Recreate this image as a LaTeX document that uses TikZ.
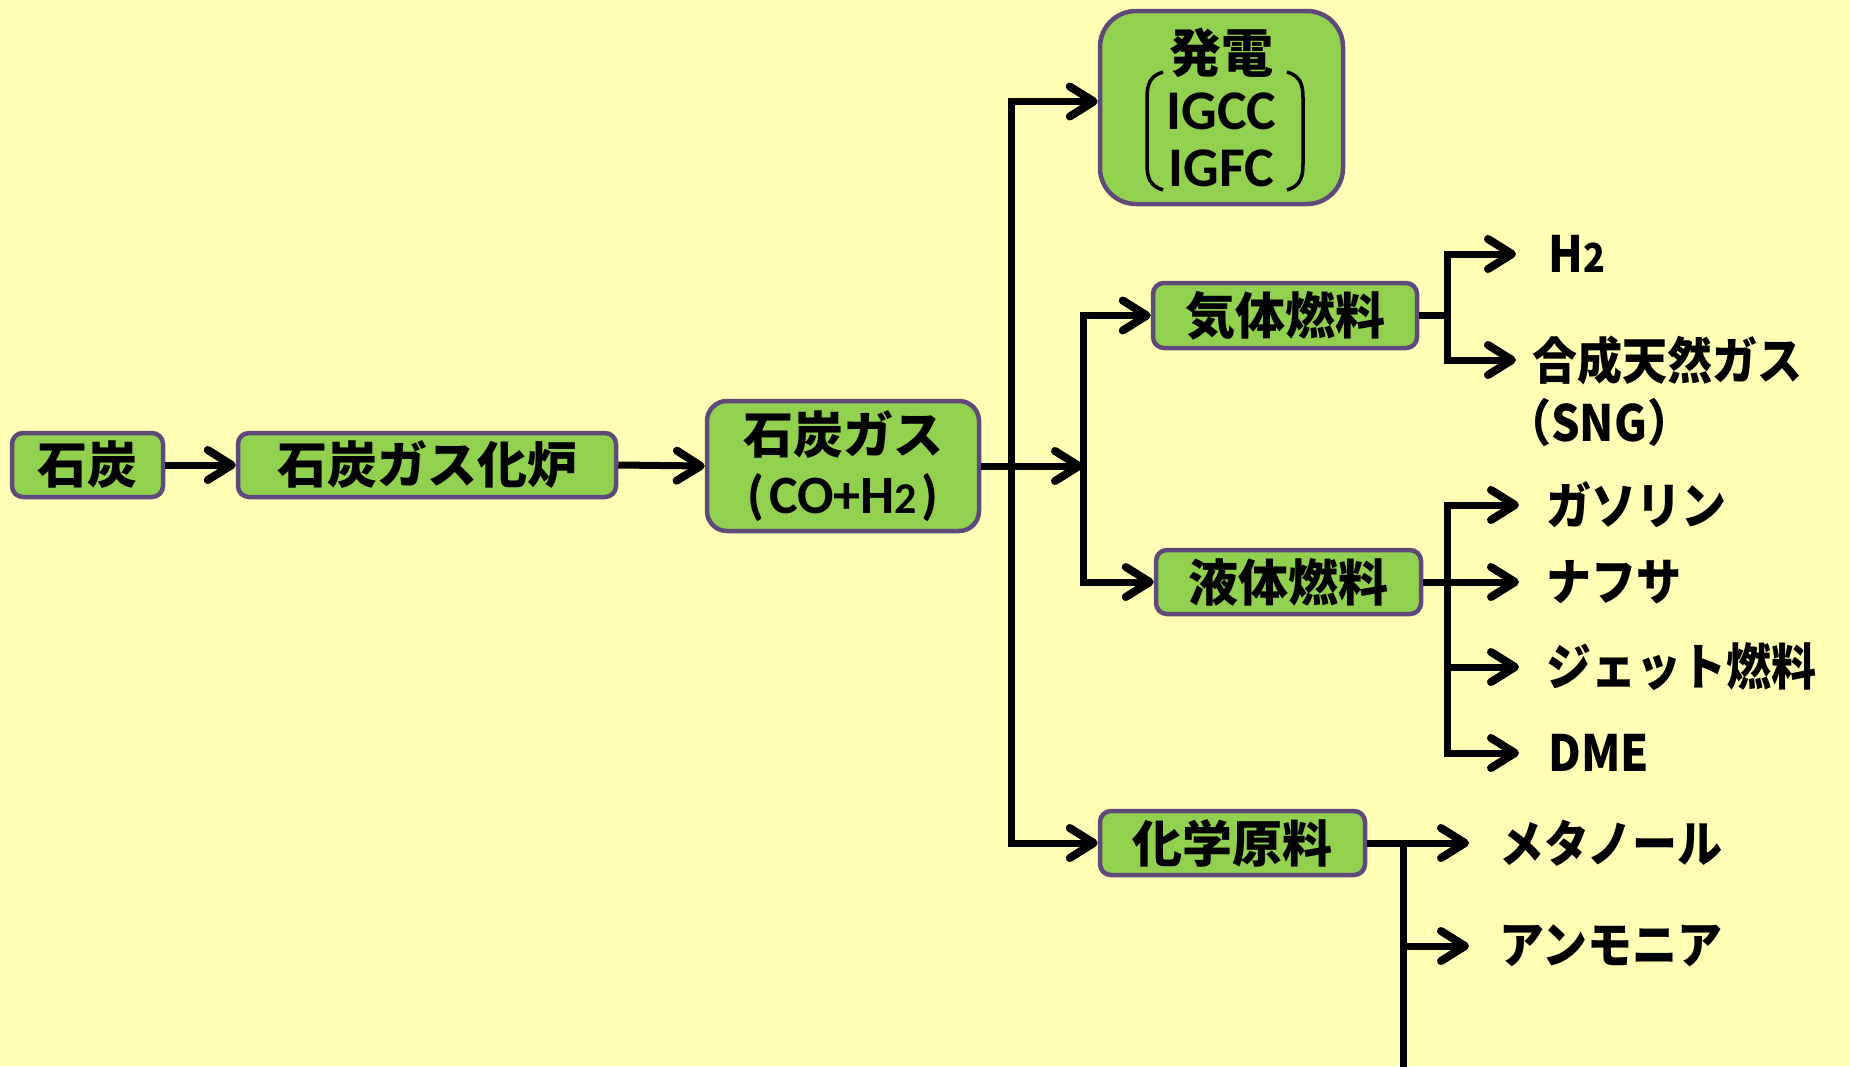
\documentclass[tikz,border=0pt]{standalone}
\usepackage{fontspec}
\setmainfont{Noto Sans CJK JP}
\newfontfamily\jpc{Noto Sans CJK JP}[FakeStretch=0.9]
\newfontfamily\lat{Carlito}
\usetikzlibrary{arrows.meta}
\definecolor{bg}{HTML}{FFFFB5}
\definecolor{boxfill}{HTML}{92D050}
\definecolor{boxdraw}{HTML}{5F497A}
\tikzset{
  box/.style={draw=boxdraw, fill=boxfill, line width=4.5pt, rounded corners=11pt,
    inner sep=0pt, font=\bfseries\fontsize{50}{60}\selectfont},
  outtext/.style={anchor=west, inner sep=0pt, font=\jpc\bfseries\fontsize{50}{60}\selectfont},
  arr/.style={line width=7pt, -{Straight Barb[length=24pt,width=30pt,line width=8pt,round]}},
  conn/.style={line width=7pt},
  bracket/.style={line width=3.5pt},
}
\begin{document}
\begin{tikzpicture}[x=1pt,y=-1pt]
\useasboundingbox (0,0) rectangle (1850,1066);
\fill[bg] (0,0) rectangle (1850,1066);

% boxes
\node[box, minimum width=151pt, minimum height=64pt] (coal) at (87.5,465) {石炭};
\node[box, minimum width=378pt, minimum height=64pt] (gasifier) at (427,465) {石炭ガス化炉};
\node[box, rounded corners=20pt, minimum width=272pt, minimum height=130pt, align=center,
  font=\bfseries\fontsize{50}{60}\selectfont] (gas) at (843,466)
  {石炭ガス\\{\lat\fontsize{54}{60}\selectfont (\hspace{5pt}CO+H{\fontsize{44}{60}\selectfont 2}\hspace{5pt})}};
\node[box, rounded corners=36pt, minimum width=243pt, minimum height=193pt, align=center,
  font=\bfseries\fontsize{52}{57}\selectfont] (power) at (1221.5,107.5)
  {発電\\{\lat\fontsize{56}{57}\selectfont IGCC}\\{\lat\fontsize{56}{57}\selectfont IGFC}};
\node[box, minimum width=264pt, minimum height=65pt] (gasfuel) at (1285,315.5) {気体燃料};
\node[box, minimum width=265pt, minimum height=64pt] (liqfuel) at (1288.5,582) {液体燃料};
\node[box, minimum width=265pt, minimum height=64pt] (chem) at (1232.5,843) {化学原料};

% brackets inside power box
\draw[bracket] (1163,72) .. controls (1150,76) and (1147,84) .. (1147,98) -- (1147,164)
  .. controls (1147,178) and (1150,186) .. (1163,190);
\draw[bracket] (1287,72) .. controls (1300,76) and (1303,84) .. (1303,98) -- (1303,164)
  .. controls (1303,178) and (1300,186) .. (1287,190);

% output texts
\node[outtext] (h2) at (1548,254) {H{\fontsize{40}{60}\selectfont 2}};
\node[outtext] (sng) at (1532,360) {合成天然ガス};
\node[outtext] (sng2) at (1506,422) {（SNG）};
\node[outtext] (gasoline) at (1546,505) {ガソリン};
\node[outtext] (naphtha) at (1546,582) {ナフサ};
\node[outtext] (jet) at (1546,667) {ジェット燃料};
\node[outtext] (dme) at (1548,753) {DME};
\node[outtext] (methanol) at (1499,843) {メタノール};
\node[outtext] (ammonia) at (1499,946) {アンモニア};

% junction coordinates
\coordinate (c1) at (1011,466);
\coordinate (j2) at (1083,466);
\coordinate (k1) at (1447,315.5);
\coordinate (e1) at (1447,582);
\coordinate (m1) at (1403,843);
\coordinate (mbot) at (1403,1070);

% connectors
\draw[arr] (coal) -- (gasifier);
\draw[arr] (gasifier.east) -- (gas.west);
\draw[arr] (gas.east) -- (j2);
\draw[arr] (c1) |- ([yshift=6pt]power.west);
\draw[arr] (c1) |- (chem.west);
\draw[arr] (j2) |- (gasfuel.west);
\draw[arr] (j2) |- (liqfuel.west);

\draw[conn] (gasfuel.east) -- (k1);
\draw[arr] (k1) |- ([xshift=-32pt]h2.west);
\draw[arr] (k1) |- ([xshift=-16pt]sng.west);

\draw[arr] (liqfuel.east) -- ([xshift=-27pt]naphtha.west);
\draw[arr] (e1) |- ([xshift=-27pt]gasoline.west);
\draw[arr] (e1) |- ([xshift=-27pt]jet.west);
\draw[arr] (e1) |- ([xshift=-29pt]dme.west);

\draw[arr] (chem.east) -- ([xshift=-30pt]methanol.west);
\draw[conn] (m1) -- (mbot);
\draw[arr] (m1 |- ammonia.west) -- ([xshift=-30pt]ammonia.west);
\end{tikzpicture}
\end{document}
